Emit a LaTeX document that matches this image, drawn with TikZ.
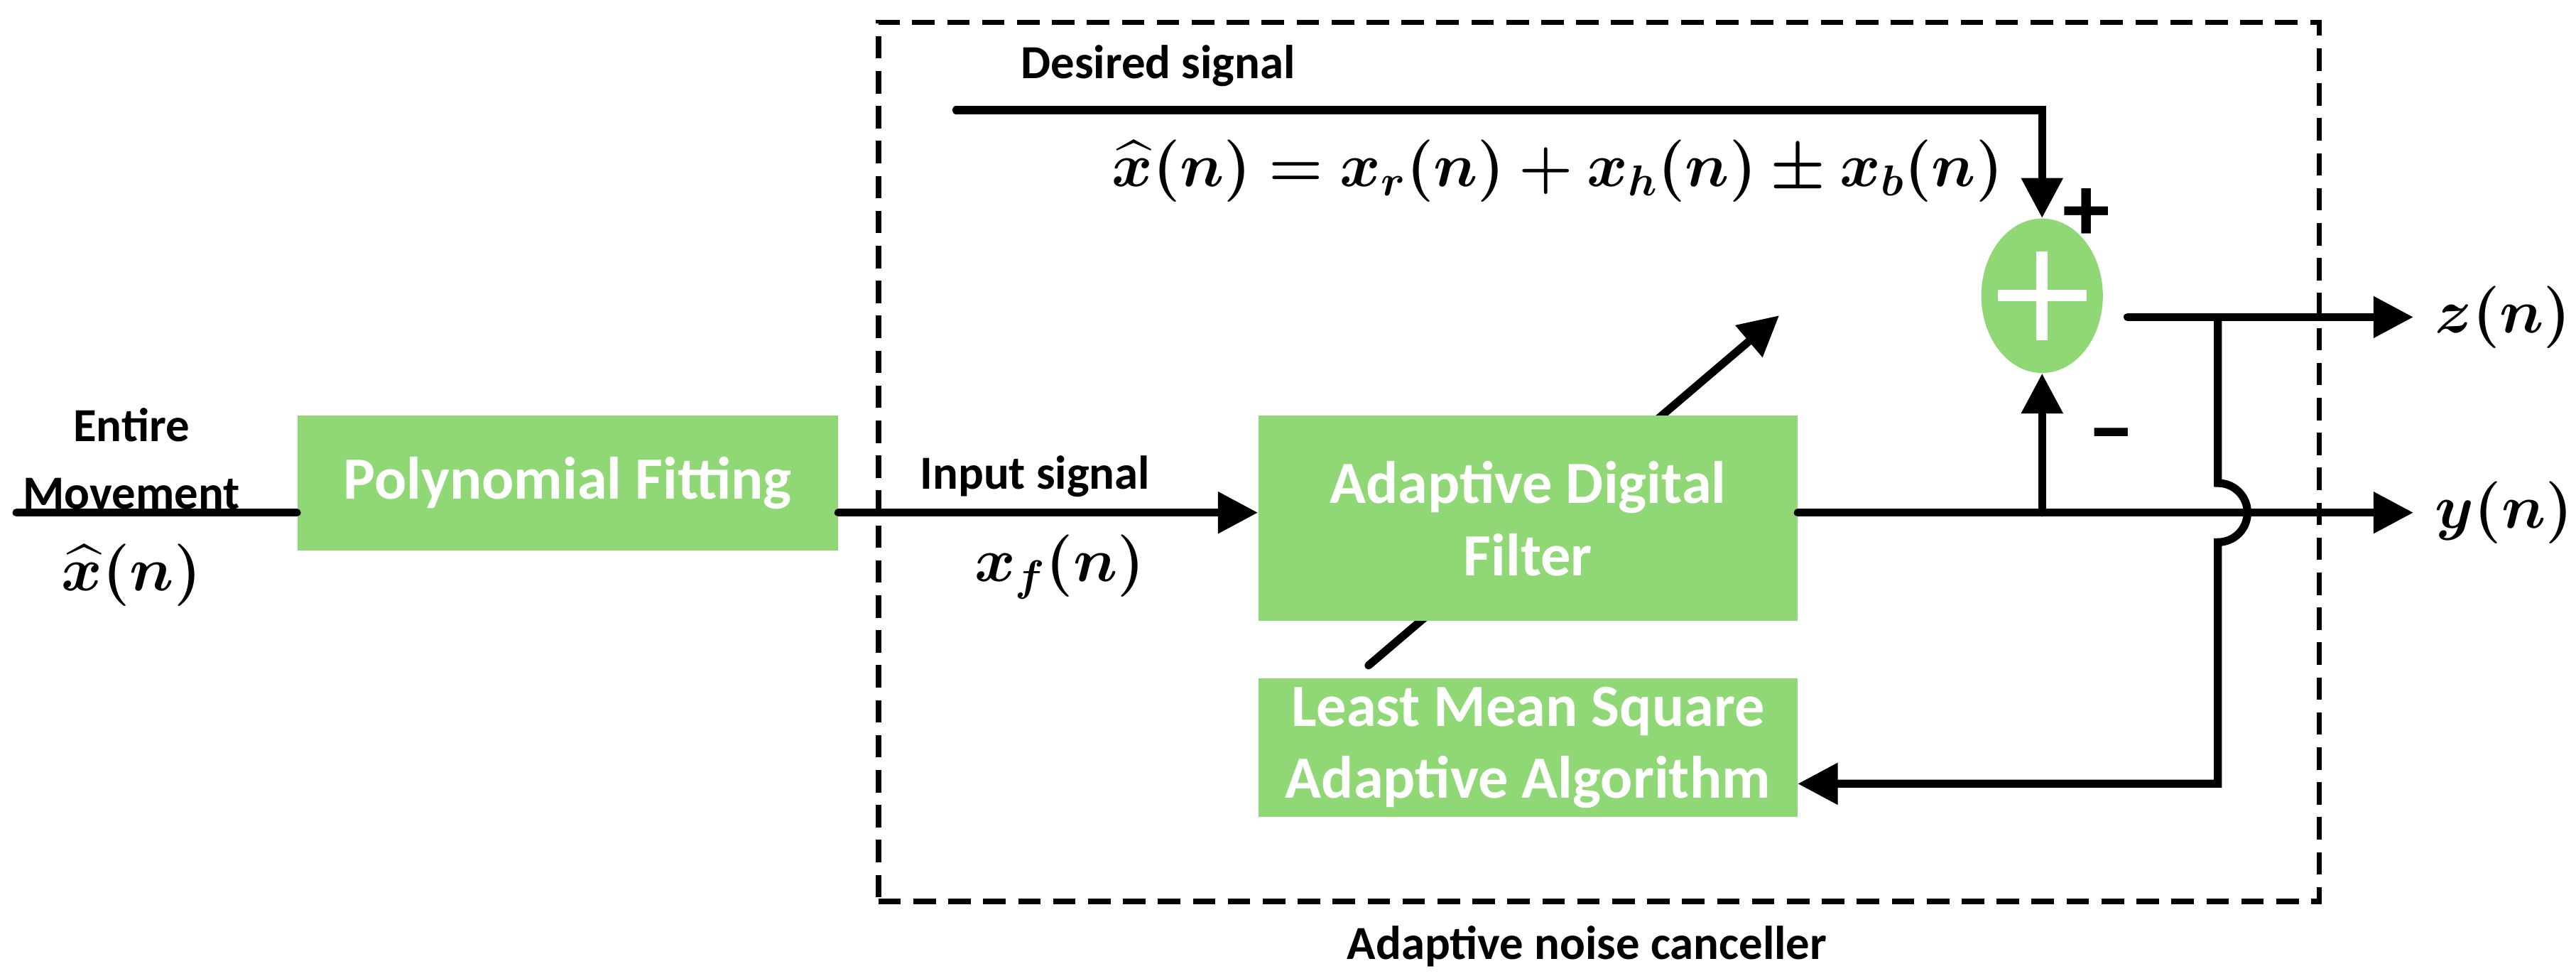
\documentclass[tikz,border=0pt]{standalone}
\usepackage{amsmath,bm}
\usepackage{fontspec}
\setmainfont{Carlito}
\usetikzlibrary{arrows.meta,shapes.geometric}
\begin{document}
\begin{tikzpicture}[x=0.02313cm,y=-0.02313cm,
  box/.style={draw=none,fill={rgb,255:red,144;green,216;blue,118},text=white,font=\fontsize{24}{29}\selectfont\bfseries,align=center,inner sep=0},
  lbl/.style={font=\fontsize{19}{27}\selectfont\bfseries,align=center},
  mth/.style={font=\fontsize{23}{28}\selectfont},
  ln/.style={line width=3.2pt,line cap=round},
  arr/.style={ln,-{Triangle[length=16pt,width=16pt]}}]
\useasboundingbox (0,0) rectangle (1568,594);
\node[draw,dashed,line width=2.2pt,dash pattern=on 9pt off 5pt,minimum width=877*0.02313cm,minimum height=535*0.02313cm,anchor=north west] (dash) at (533,12) {};
\coordinate (d0) at (833,405);
\coordinate (d1) at (1083,192);
\draw[arr] (d0) -- (d1);
\node[box,minimum width=329*0.02313cm,minimum height=82*0.02313cm] (poly) at (345.5,294) {Polynomial Fitting};
\node[box,minimum width=328*0.02313cm,minimum height=125*0.02313cm] (adf) at (930,315.5) {Adaptive Digital\\Filter};
\node[box,minimum width=328*0.02313cm,minimum height=84*0.02313cm] (lms) at (930,455) {Least Mean Square\\Adaptive Algorithm};
\node[ellipse,fill={rgb,255:red,144;green,216;blue,118},minimum width=74*0.02313cm,minimum height=94*0.02313cm,inner sep=0] (sum) at (1243,180) {};
\draw[white,line width=4.5pt] (1243,153)--(1243,207) (1216,180)--(1270,180);
\coordinate (start) at (10,312);
\coordinate (yout) at (1469,312);
\coordinate (zout) at (1469,193);
\coordinate (ds) at (582,67);
\coordinate (br) at (1243,312);
\coordinate (fb) at (1350,193);
\coordinate (fbend) at (1350,477);
\draw[ln] (start) -- (poly.west|-start);
\draw[arr] (poly.east|-start) -- (adf.west|-start);
\draw[arr] (adf.east|-yout) -- (yout);
\draw[arr] (br) -- (sum.south);
\draw[arr] (ds) -- (1243,67) -- (sum.north);
\draw[arr] (1295,193) -- (zout);
\draw[arr,line cap=butt] (fb) -- (1350,294) arc (-90:90:18) -- (fbend) -- (lms.east|-fbend);
\node[lbl] (em) at (80,279) {Entire\\Movement};
\node[mth] (xh) at (80,350) {$\bm{\widehat{x}(n)}$};
\node[lbl] (is) at (630,290) {Input signal};
\node[mth] (xf) at (645,345) {$\bm{x_f(n)}$};
\node[lbl] (dsl) at (705,40) {Desired signal};
\node[mth] (eq) at (948,104) {$\bm{\widehat{x}(n)=x_r(n)+x_h(n)\pm x_b(n)}$};
\node[font=\fontsize{38}{40}\selectfont\bfseries] (pl) at (1270,131) {+};
\node[font=\fontsize{38}{40}\selectfont\bfseries] (mi) at (1285,270) {\textendash};
\node[mth,anchor=west] (zl) at (1477,193) {$\bm{z(n)}$};
\node[mth,anchor=west] (yl) at (1477,312) {$\bm{y(n)}$};
\node[lbl] (anc) at (966,576) {Adaptive noise canceller};
\end{tikzpicture}
\end{document}
